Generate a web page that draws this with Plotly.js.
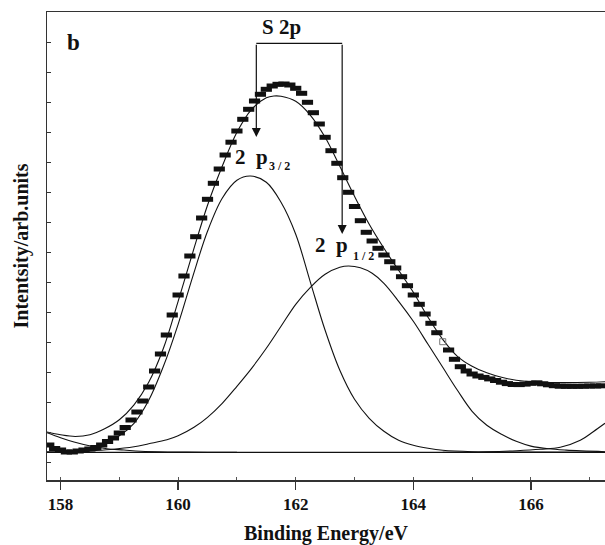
<!DOCTYPE html>
<html>
<head>
<meta charset="utf-8">
<script src="https://cdn.plot.ly/plotly-3.0.1.min.js"></script>
<style>html,body{margin:0;padding:0;background:#fff;}#chart{width:605px;height:545px;}</style>
</head>
<body>
<div id="chart"></div>
<script>
// Measured data points (binding energy, eV)
const dataE = [157.8,157.9,158.0,158.1,158.2,158.3,158.4,158.5,158.6,158.7,158.8,158.9,159.0,159.1,159.2,159.3,159.4,159.5,159.6,159.7,159.8,159.9,160.0,160.1,160.2,160.3,160.4,160.5,160.6,160.7,160.8,160.9,161.0,161.1,161.2,161.3,161.4,161.5,161.6,161.7,161.8,161.9,162.0,162.1,162.2,162.3,162.4,162.5,162.6,162.7,162.8,162.9,163.0,163.1,163.2,163.3,163.4,163.5,163.6,163.7,163.8,163.9,164.0,164.1,164.2,164.3,164.4,164.6,164.7,164.8,164.9,165.0,165.1,165.2,165.3,165.4,165.5,165.6,165.7,165.8,165.9,166.0,166.1,166.2,166.3,166.4,166.5,166.6,166.7,166.8,166.9,167.0,167.1,167.2];
const dataI = [0.73,0.38,0.23,0.03,0.03,0.13,0.23,0.33,0.48,0.73,1.08,1.43,1.93,2.48,3.23,4.03,5.13,6.53,8.13,9.83,11.73,13.73,15.73,17.63,19.63,21.56,23.43,25.30,26.90,28.33,29.73,31.01,32.13,33.30,34.30,35.13,35.80,36.30,36.63,36.80,36.83,36.73,36.40,35.90,35.00,33.96,32.83,31.50,30.16,28.90,27.46,26.00,24.58,23.16,22.00,21.13,20.40,19.73,19.06,18.43,17.56,16.66,15.73,14.80,13.83,12.90,11.96,10.23,9.30,8.56,8.13,7.83,7.63,7.49,7.34,7.18,7.01,6.87,6.78,6.77,6.82,6.90,6.95,6.85,6.75,6.66,6.61,6.60,6.60,6.60,6.61,6.63,6.63,6.65];
// the single open point
const openE = [164.5];
const openI = [11.06];

// Fitted envelope
const envE = [157.77,158.0,158.25,158.5,158.75,159.0,159.25,159.5,159.75,160.0,160.25,160.5,160.75,161.0,161.25,161.5,161.63,161.75,162.0,162.25,162.5,162.75,163.0,163.25,163.5,163.75,164.0,164.25,164.5,164.75,165.0,165.25,165.5,165.75,166.0,166.5,167.0,167.26];
const envI = [2.03,1.75,1.58,1.75,2.35,3.25,4.75,7.0,10.4,15.1,20.0,24.7,28.6,32.0,34.3,35.45,35.63,35.6,35.1,33.7,31.5,28.6,25.6,22.8,20.4,18.2,16.0,13.5,11.3,9.6,8.6,7.95,7.5,7.2,7.05,6.97,7.0,7.06];

// S 2p3/2 component
const p32E = [157.77,158.0,158.25,158.5,158.75,159.0,159.25,159.5,159.75,160.0,160.25,160.5,160.75,161.0,161.23,161.5,161.75,162.0,162.25,162.5,162.75,163.0,163.25,163.5,163.75,164.0,164.25,164.5,165.0,166.0,167.26];
const p32I = [0.02,0.04,0.13,0.4,0.9,1.65,2.9,5.2,8.6,12.8,17.6,22.1,25.4,27.2,27.63,27.0,25.0,21.8,17.0,12.2,8.2,5.3,3.4,2.1,1.2,0.7,0.4,0.2,0.06,0.02,0.0];

// S 2p1/2 component
const p12E = [157.77,158.25,158.5,158.85,159.25,159.5,159.81,160.0,160.27,160.5,160.75,161.0,161.25,161.5,161.75,162.0,162.25,162.5,162.75,162.9,163.1,163.3,163.5,163.75,164.0,164.25,164.5,164.75,165.0,165.25,165.5,165.75,166.0,166.3,166.6,167.26];
const p12I = [0.02,0.08,0.14,0.28,0.55,0.85,1.25,1.65,2.5,3.5,4.9,6.6,8.4,10.4,12.6,14.8,16.5,17.8,18.5,18.63,18.45,17.9,16.9,15.1,13.1,10.8,8.5,6.2,4.1,2.7,1.8,1.1,0.62,0.35,0.22,0.06];

// Low-energy background component
const lowE = [157.77,158.0,158.23,158.51,158.79,159.08,159.36,159.92,160.5,161.0];
const lowI = [1.96,1.46,1.03,0.63,0.36,0.23,0.1,0.03,0.01,0.0];

// High-energy component
const highE = [164.5,165.25,165.76,166.16,166.5,166.84,167.06,167.26];
const highI = [0.0,0.06,0.16,0.3,0.5,1.2,2.06,2.9];

// Baseline
const baseE = [157.77,167.26];
const baseI = [0,0];

const lineStyle = {color:'#111', width:1.1, shape:'spline', smoothing:1};

const traces = [
  {x:baseE, y:baseI, mode:'lines', line:{color:'#111', width:1.2}, hoverinfo:'skip'},
  {x:lowE, y:lowI, mode:'lines', line:lineStyle},
  {x:highE, y:highI, mode:'lines', line:lineStyle},
  {x:p32E, y:p32I, mode:'lines', line:lineStyle},
  {x:p12E, y:p12I, mode:'lines', line:lineStyle},
  {x:envE, y:envI, mode:'lines', line:lineStyle},
  {x:dataE, y:dataI, mode:'markers', marker:{symbol:'line-ew', size:8, color:'#111', line:{color:'#111', width:5}}},
  {x:openE, y:openI, mode:'markers', marker:{symbol:'square-open', size:6, color:'#777', line:{color:'#777', width:1}}}
];

const serif = 'Liberation Serif, Times New Roman, serif';
const layout = {
  width:605, height:545,
  margin:{l:47, r:0, t:12, b:65},
  paper_bgcolor:'#fff', plot_bgcolor:'#fff',
  showlegend:false,
  font:{family:serif, color:'#111'},
  xaxis:{
    range:[157.77,167.26], showgrid:false, zeroline:false,
    showline:true, linecolor:'#333', linewidth:1.5, mirror:true,
    ticks:'outside', ticklen:8, tickwidth:1.3, tickcolor:'#333',
    tick0:158, dtick:2,
    tickfont:{family:serif, size:17, weight:'bold', color:'#111'},
    minor:{ticks:'inside', ticklen:3, dtick:1, tickcolor:'#555', tickwidth:1},
    title:{text:'Binding Energy/eV', font:{family:serif, size:20, weight:'bold', color:'#111'}, standoff:18}
  },
  yaxis:{
    range:[-2.77,44.03], showgrid:false, zeroline:false,
    showline:true, linecolor:'#333', linewidth:1.5,
    ticks:'inside', ticklen:4, tickwidth:1.2, tickcolor:'#333',
    tick0:-1, dtick:3, showticklabels:false,
    title:{text:'Intentsity/arb.units', font:{family:serif, size:20, weight:'bold', color:'#111'}, standoff:11}
  },
  shapes:[
    {type:'line', xref:'x', yref:'y', x0:161.33, x1:162.79, y0:40.9, y1:40.9, line:{color:'#111', width:1.2}}
  ],
  annotations:[
    {x:161.33, y:31.53, ax:161.33, ay:40.9, xref:'x', yref:'y', axref:'x', ayref:'y', text:'', showarrow:true, arrowhead:2, arrowsize:1.5, arrowwidth:1.2, arrowcolor:'#111', standoff:0},
    {x:162.79, y:21.83, ax:162.79, ay:40.9, xref:'x', yref:'y', axref:'x', ayref:'y', text:'', showarrow:true, arrowhead:2, arrowsize:1.5, arrowwidth:1.2, arrowcolor:'#111', standoff:0},
    {x:158.22, y:41.03, xref:'x', yref:'y', text:'b', showarrow:false, font:{family:serif, size:23, weight:'bold', color:'#111'}},
    {x:161.76, y:42.5, xref:'x', yref:'y', text:'S 2p', showarrow:false, font:{family:serif, size:21, weight:'bold', color:'#111'}},
    {x:161.24, y:29.5, xref:'x', yref:'y', text:'2  p', showarrow:false, font:{family:serif, size:21, weight:'bold', color:'#111'}},
    {x:161.72, y:28.63, xref:'x', yref:'y', text:'3 / 2', showarrow:false, font:{family:serif, size:12, weight:'bold', color:'#111'}},
    {x:162.6, y:20.7, xref:'x', yref:'y', text:'2  p', showarrow:false, font:{family:serif, size:21, weight:'bold', color:'#111'}},
    {x:163.15, y:19.63, xref:'x', yref:'y', text:'1 / 2', showarrow:false, font:{family:serif, size:12, weight:'bold', color:'#111'}}
  ]
};

Plotly.newPlot('chart', traces, layout, {displayModeBar:false, staticPlot:true});
</script>
</body>
</html>
